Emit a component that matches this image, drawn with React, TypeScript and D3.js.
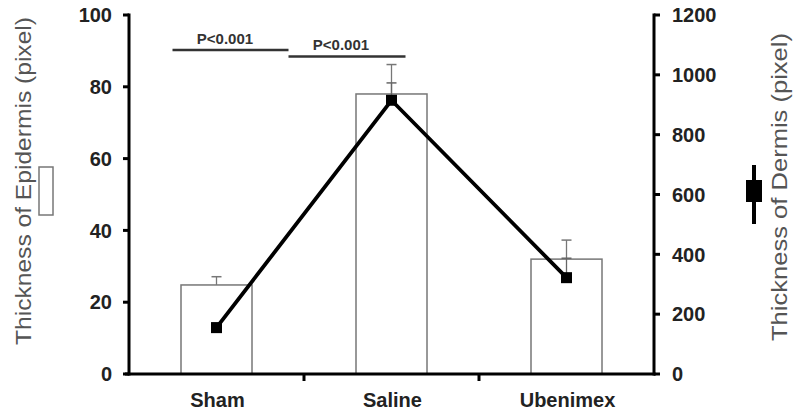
import React from "react";
import * as d3 from "d3";

const categories = ["Sham", "Saline", "Ubenimex"];
const epidermis = [24.8, 78, 32];
const epidermisErr = [2.3, 8.2, 5.3];
const dermis = [155, 915, 322];
const dermisErr = [15, 58, 65];
const leftTicks = [0, 20, 40, 60, 80, 100];
const rightTicks = [0, 200, 400, 600, 800, 1000, 1200];
const sigLabels = ["P<0.001", "P<0.001"];

const W = 793;
const H = 412;
const FONT = "'Liberation Sans', Arial, sans-serif";

export default function App() {
  const x = d3.scaleBand<string>().domain(categories).range([129, 654]).padding(0);
  const yL = d3.scaleLinear().domain([0, 100]).range([374, 15]);
  const yR = d3.scaleLinear().domain([0, 1200]).range([374, 15]);
  const bw = 71;
  const cx = (c: string) => (x(c) as number) + x.bandwidth() / 2;
  const x0 = x.range()[0];
  const x1 = x.range()[1];

  const line = d3
    .line<number>()
    .x((_, i) => cx(categories[i]))
    .y((d) => yR(d));

  const dividers = categories.slice(1).map((c) => x(c) as number);

  return (
    <svg
      width={W}
      height={H}
      style={{ position: "absolute", left: 0, top: 0, background: "#fff" }}
      fontFamily={FONT}
    >
      {/* bars */}
      {categories.map((c, i) => (
        <g key={c}>
          <line
            x1={cx(c)}
            x2={cx(c)}
            y1={yL(epidermis[i])}
            y2={yL(epidermis[i] + epidermisErr[i])}
            stroke="#777"
            strokeWidth={1.3}
          />
          <line
            x1={cx(c) - 5}
            x2={cx(c) + 5}
            y1={yL(epidermis[i] + epidermisErr[i])}
            y2={yL(epidermis[i] + epidermisErr[i])}
            stroke="#777"
            strokeWidth={1.5}
          />
          <rect
            x={cx(c) - bw / 2}
            y={yL(epidermis[i])}
            width={bw}
            height={yL(0) - yL(epidermis[i])}
            fill="#fff"
            stroke="#777"
            strokeWidth={1.5}
          />
        </g>
      ))}
      {/* dermis error bars */}
      {categories.map((c, i) => (
        <g key={"de" + c}>
          <line
            x1={cx(c)}
            x2={cx(c)}
            y1={yR(dermis[i])}
            y2={yR(dermis[i] + dermisErr[i])}
            stroke="#666"
            strokeWidth={1.3}
          />
          <line
            x1={cx(c) - 5}
            x2={cx(c) + 5}
            y1={yR(dermis[i] + dermisErr[i])}
            y2={yR(dermis[i] + dermisErr[i])}
            stroke="#666"
            strokeWidth={1.5}
          />
        </g>
      ))}
      {/* dermis line */}
      <path d={line(dermis) as string} fill="none" stroke="#000" strokeWidth={3.8} />
      {categories.map((c, i) => (
        <rect
          key={"m" + c}
          x={cx(c) - 5.5}
          y={yR(dermis[i]) - 5.5}
          width={11}
          height={11}
          fill="#000"
        />
      ))}

      {/* significance */}
      <line x1={cx(categories[0]) - 44} x2={cx(categories[1]) - 103} y1={50} y2={50} stroke="#333" strokeWidth={2.5} />
      <line x1={cx(categories[1]) - 103} x2={cx(categories[1]) + 14} y1={56.5} y2={56.5} stroke="#333" strokeWidth={2.5} />
      <text x={225} y={44} textAnchor="middle" fontSize={15} fontWeight="bold" fill="#333">
        {sigLabels[0]}
      </text>
      <text x={341} y={50} textAnchor="middle" fontSize={15} fontWeight="bold" fill="#333">
        {sigLabels[1]}
      </text>

      {/* left axis */}
      <line x1={x0} x2={x0} y1={yL(100) - 1.5} y2={yL(0) + 1.5} stroke="#000" strokeWidth={3} />
      {leftTicks.map((t) => (
        <g key={"lt" + t}>
          <line x1={x0 - 6} x2={x0} y1={yL(t)} y2={yL(t)} stroke="#000" strokeWidth={3} />
          <text
            x={x0 - 17}
            y={yL(t)}
            dy="0.36em"
            textAnchor="end"
            fontSize={20}
            fontWeight="bold"
            fill="#222"
          >
            {t}
          </text>
        </g>
      ))}
      {/* right axis */}
      <line x1={x1} x2={x1} y1={yR(1200) - 1.5} y2={yR(0) + 1.5} stroke="#000" strokeWidth={3} />
      {rightTicks.map((t) => (
        <g key={"rt" + t}>
          <line x1={x1} x2={x1 + 6} y1={yR(t)} y2={yR(t)} stroke="#000" strokeWidth={3} />
          <text x={x1 + 18} y={yR(t)} dy="0.36em" textAnchor="start" fontSize={20} fontWeight="bold" fill="#222">
            {t}
          </text>
        </g>
      ))}
      {/* x axis */}
      <line x1={x0 - 4} x2={x1 + 1.5} y1={yL(0)} y2={yL(0)} stroke="#000" strokeWidth={3} />
      {dividers.map((d, i) => (
        <line key={"dv" + i} x1={d} x2={d} y1={yL(0)} y2={yL(0) + 7} stroke="#000" strokeWidth={3} />
      ))}
      {categories.map((c) => (
        <text key={"xl" + c} x={cx(c) + 1} y={407} textAnchor="middle" fontSize={20} fontWeight="bold" fill="#222">
          {c}
        </text>
      ))}

      {/* axis titles */}
      <text
        transform="translate(31,181) rotate(-90)"
        textAnchor="middle"
        fontSize={22}
        textLength={328}
        lengthAdjust="spacingAndGlyphs"
        fill="#555"
      >
        Thickness of Epidermis (pixel)
      </text>
      <rect x={39} y={167} width={14} height={48} fill="#fff" stroke="#777" strokeWidth={1.5} />

      <text
        transform="translate(787,187) rotate(-90)"
        textAnchor="middle"
        fontSize={22}
        textLength={308}
        lengthAdjust="spacingAndGlyphs"
        fill="#555"
      >
        Thickness of Dermis (pixel)
      </text>
      <line x1={754} x2={754} y1={165} y2={224} stroke="#000" strokeWidth={4} />
      <rect x={746} y={180} width={16} height={22} fill="#000" />
    </svg>
  );
}
